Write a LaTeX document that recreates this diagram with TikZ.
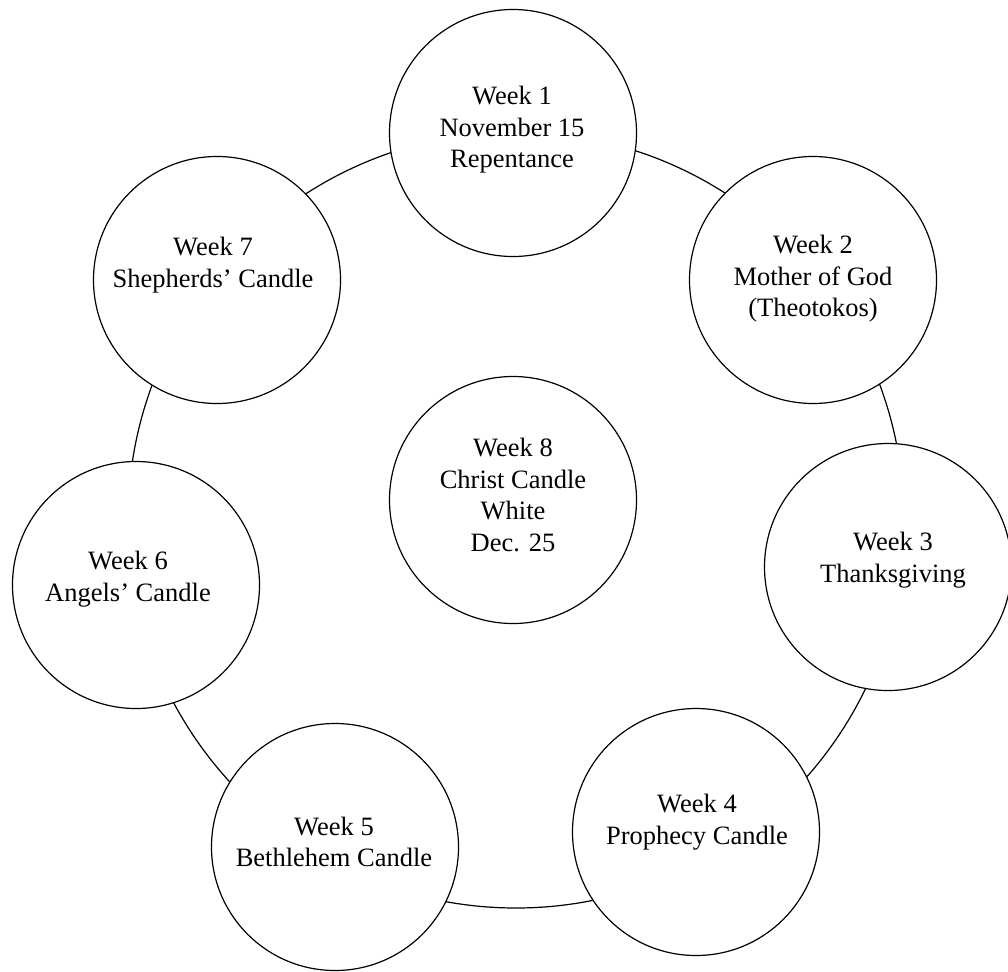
\documentclass[tikz,border=0pt]{standalone}
\usepackage{fontspec}
\setmainfont{Liberation Serif}
\begin{document}
\begin{tikzpicture}[x=1pt,y=-1pt,
  week/.style={circle,draw,line width=1.2pt,fill=white,minimum size=247pt,inner sep=0pt},
  lab/.style={align=center,inner sep=0pt,font=\fontsize{26.5}{31.5}\selectfont},
  ringstyle/.style={circle,draw,line width=1.2pt,minimum size=776pt,inner sep=0pt}]
\useasboundingbox (0,0) rectangle (1008,971);
\node[ringstyle] (ring) at (516,520) {};
\node[week] (w1) at (513,133) {};
\node[week] (w2) at (813,280) {};
\node[week] (w3) at (888,567) {};
\node[week] (w4) at (696,832) {};
\node[week] (w5) at (335,847) {};
\node[week] (w6) at (136,585) {};
\node[week] (w7) at (217,280) {};
\node[week] (w8) at (513,500) {};
\node[lab] (t1) at (512,130) {Week 1\\November 15\\Repentance};
\node[lab] (t2) at (813,279) {Week 2\\Mother of God\\(Theotokos)};
\node[lab] (t3) at (893,560) {Week 3\\Thanksgiving};
\node[lab] (t4) at (697,822) {Week 4\\Prophecy Candle};
\node[lab] (t5) at (334,842) {Week 5\\Bethlehem Candle};
\node[lab] (t6) at (128,579) {Week 6\\Angels’ Candle};
\node[lab] (t7) at (213,265) {Week 7\\Shepherds’ Candle};
\node[lab] (t8) at (513,495) {Week 8\\Christ Candle\\White\\Dec. 25};
\end{tikzpicture}
\end{document}
